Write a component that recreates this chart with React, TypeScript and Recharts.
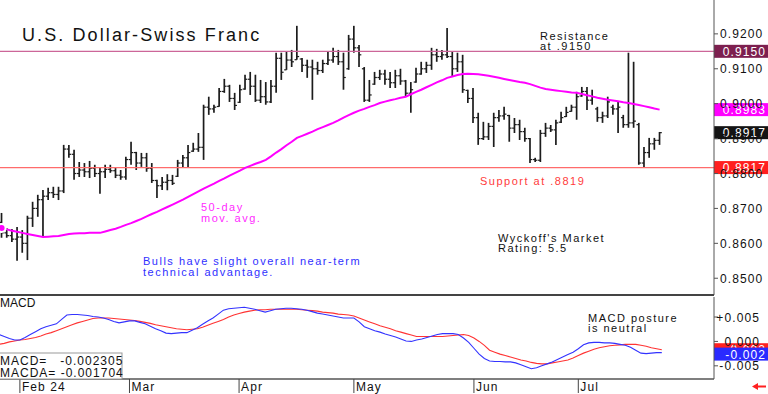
import { Bar, ComposedChart, Line, ReferenceLine, XAxis, YAxis } from "recharts";

// daily OHLC, USD/CHF, Jan 26 - Jul 23 2024
const highs = [
  0.8687, 0.8644, 0.8641, 0.8647, 0.8638, 0.8679, 0.8719, 0.8739, 0.8753, 0.8759,
  0.8762, 0.8762, 0.8882, 0.8882, 0.8868, 0.8833, 0.883, 0.8836, 0.8825, 0.8819,
  0.8825, 0.8825, 0.8816, 0.881, 0.8848, 0.8891, 0.8862, 0.8859, 0.8859, 0.883,
  0.8782, 0.879, 0.8798, 0.8796, 0.8839, 0.8853, 0.8882, 0.8888, 0.8916, 0.8997,
  0.902, 0.8997, 0.9045, 0.9071, 0.9054, 0.9031, 0.9054, 0.9083, 0.9091, 0.9083,
  0.9068, 0.9062, 0.9068, 0.9146, 0.9146, 0.9148, 0.9154, 0.9223, 0.9131, 0.9126,
  0.9126, 0.912, 0.9126, 0.9151, 0.916, 0.9154, 0.9146, 0.9197, 0.9223, 0.9168,
  0.9105, 0.9068, 0.9091, 0.9097, 0.9097, 0.9091, 0.9097, 0.91, 0.9068, 0.9062,
  0.9103, 0.912, 0.912, 0.916, 0.9157, 0.9154, 0.9217, 0.9148, 0.9146, 0.914,
  0.904, 0.9045, 0.8974, 0.8948, 0.8945, 0.8974, 0.8982, 0.8991, 0.8968, 0.8959,
  0.8954, 0.8931, 0.8902, 0.8845, 0.8925, 0.8945, 0.8939, 0.8954, 0.8977, 0.8991,
  0.8997, 0.9034, 0.9048, 0.9048, 0.904, 0.8991, 0.8977, 0.902, 0.8997, 0.9005,
  0.8968, 0.9146, 0.912, 0.8945, 0.8876, 0.8902, 0.8902, 0.8919,
];
const lows = [
  0.8616, 0.8616, 0.8604, 0.855, 0.8573, 0.8552, 0.8647, 0.8676, 0.8618, 0.8724,
  0.873, 0.8724, 0.8744, 0.8845, 0.8782, 0.879, 0.879, 0.8787, 0.879, 0.8742,
  0.8787, 0.8802, 0.8787, 0.8782, 0.8782, 0.8825, 0.881, 0.8819, 0.8805, 0.8773,
  0.873, 0.8753, 0.8752, 0.8767, 0.879, 0.8816, 0.8819, 0.8862, 0.8862, 0.8839,
  0.8968, 0.8974, 0.8991, 0.9031, 0.9005, 0.8982, 0.9002, 0.904, 0.9025, 0.9005,
  0.9002, 0.8997, 0.9002, 0.9031, 0.9068, 0.9097, 0.9105, 0.9126, 0.9091, 0.9074,
  0.9011, 0.9083, 0.9088, 0.9111, 0.9117, 0.9111, 0.904, 0.9097, 0.9146, 0.9105,
  0.9005, 0.9005, 0.9054, 0.9068, 0.9054, 0.9045, 0.9045, 0.9054, 0.902, 0.8974,
  0.906, 0.9083, 0.9088, 0.9097, 0.912, 0.9126, 0.9131, 0.9077, 0.9091, 0.9031,
  0.9002, 0.8945, 0.8882, 0.8896, 0.8896, 0.8876, 0.8948, 0.8954, 0.8891, 0.8916,
  0.8896, 0.8891, 0.883, 0.8833, 0.8833, 0.8905, 0.8919, 0.8882, 0.8945, 0.8962,
  0.8977, 0.8954, 0.902, 0.8982, 0.8997, 0.8948, 0.8945, 0.8959, 0.8968, 0.8916,
  0.8931, 0.8931, 0.8931, 0.8825, 0.8816, 0.8845, 0.8868, 0.8882,
];
const opens = [
  0.866, 0.863, 0.8622, 0.8612, 0.8618, 0.86, 0.8672, 0.87, 0.8725, 0.8735,
  0.8745, 0.874, 0.875, 0.887, 0.8855, 0.88, 0.881, 0.8805, 0.8815, 0.88,
  0.8805, 0.8812, 0.8808, 0.8795, 0.879, 0.884, 0.886, 0.883, 0.8845, 0.8815,
  0.878, 0.8765, 0.8775, 0.878, 0.8792, 0.883, 0.8845, 0.8864, 0.887, 0.8875,
  0.899, 0.8985, 0.8992, 0.9035, 0.905, 0.9015, 0.9004, 0.9042, 0.907, 0.905,
  0.901, 0.902, 0.9005, 0.905, 0.913, 0.9097, 0.9125, 0.9126, 0.9128, 0.911,
  0.9105, 0.91, 0.9095, 0.9115, 0.9125, 0.9135, 0.912, 0.91, 0.9185, 0.916,
  0.91, 0.901, 0.9056, 0.9075, 0.9085, 0.907, 0.906, 0.908, 0.9065, 0.903,
  0.9062, 0.9085, 0.91, 0.911, 0.914, 0.9135, 0.914, 0.9135, 0.91, 0.912,
  0.9038, 0.9015, 0.896, 0.89, 0.8905, 0.8935, 0.896, 0.8965, 0.8966, 0.893,
  0.894, 0.892, 0.89, 0.884, 0.8838, 0.8915, 0.893, 0.8925, 0.8947, 0.8963,
  0.8978, 0.899, 0.9022, 0.9035, 0.901, 0.8985, 0.896, 0.8965, 0.899, 0.8985,
  0.896, 0.894, 0.8945, 0.894, 0.883, 0.886, 0.8885, 0.8895,
];
const closes = [
  0.863, 0.8622, 0.8612, 0.8618, 0.86, 0.8672, 0.87, 0.8725, 0.8735, 0.8745,
  0.874, 0.875, 0.887, 0.8855, 0.88, 0.881, 0.8805, 0.8815, 0.88, 0.8805,
  0.8812, 0.8808, 0.8795, 0.879, 0.884, 0.886, 0.883, 0.8845, 0.8815, 0.878,
  0.8765, 0.8775, 0.878, 0.8772, 0.883, 0.8845, 0.886, 0.887, 0.8875, 0.899,
  0.8985, 0.899, 0.9035, 0.905, 0.9015, 0.8995, 0.904, 0.907, 0.905, 0.901,
  0.902, 0.9005, 0.905, 0.913, 0.909, 0.9125, 0.912, 0.9135, 0.911, 0.9105,
  0.91, 0.9095, 0.9115, 0.9125, 0.9135, 0.912, 0.9075, 0.9185, 0.916, 0.914,
  0.901, 0.9025, 0.9075, 0.9085, 0.907, 0.906, 0.908, 0.9065, 0.903, 0.904,
  0.9085, 0.91, 0.911, 0.914, 0.9135, 0.914, 0.9135, 0.91, 0.912, 0.904,
  0.9015, 0.896, 0.89, 0.8905, 0.8935, 0.896, 0.8965, 0.897, 0.893, 0.894,
  0.892, 0.89, 0.884, 0.8838, 0.8915, 0.893, 0.8925, 0.8945, 0.896, 0.8975,
  0.899, 0.902, 0.9035, 0.901, 0.902, 0.896, 0.8965, 0.9005, 0.8985, 0.899,
  0.894, 0.8945, 0.895, 0.883, 0.886, 0.8885, 0.8895, 0.8917,
];
const ma50 = [
  0.8644, 0.864, 0.8636, 0.8633, 0.863, 0.8627, 0.8624, 0.8621, 0.8618, 0.8619,
  0.862, 0.8621, 0.8624, 0.8627, 0.8628, 0.8629, 0.8629, 0.863, 0.863, 0.863,
  0.8634, 0.8638, 0.8642, 0.8647, 0.8653, 0.8658, 0.8664, 0.867, 0.8677, 0.8684,
  0.869, 0.8697, 0.8704, 0.8711, 0.8718, 0.8725, 0.8733, 0.8741, 0.8749, 0.8757,
  0.8764, 0.8771, 0.8779, 0.8786, 0.8794, 0.8801, 0.8808, 0.8816, 0.8822, 0.8828,
  0.8833, 0.8839, 0.8849, 0.886, 0.887, 0.8881, 0.8891, 0.8902, 0.8908, 0.8914,
  0.892, 0.8927, 0.8933, 0.8939, 0.8945, 0.8952, 0.896, 0.8967, 0.8974, 0.898,
  0.8985, 0.8991, 0.8996, 0.9002, 0.9006, 0.901, 0.9013, 0.9017, 0.902, 0.9027,
  0.9034, 0.904, 0.9047, 0.9054, 0.9061, 0.9067, 0.9074, 0.9078, 0.9082, 0.9085,
  0.9086, 0.9085, 0.9084, 0.9082, 0.908, 0.9077, 0.9074, 0.9071, 0.9068, 0.9065,
  0.9062, 0.906, 0.9056, 0.9051, 0.9046, 0.9042, 0.904, 0.9038, 0.9036, 0.9034,
  0.9032, 0.9031, 0.9028, 0.9024, 0.9021, 0.9017, 0.9014, 0.9011, 0.9009, 0.9007,
  0.9004, 0.9002, 0.8999, 0.8996, 0.8993, 0.899, 0.8986, 0.8983,
];
const macd = [
  0.0014, 0.001, 0.0006, 0.0003, 0.0003, 0.0008, 0.0014, 0.002, 0.0026, 0.003,
  0.0033, 0.0036, 0.0045, 0.0054, 0.0055, 0.0055, 0.0054, 0.0053, 0.0051, 0.005,
  0.0048, 0.0045, 0.0041, 0.0038, 0.004, 0.0042, 0.0042, 0.0039, 0.0036, 0.0031,
  0.0026, 0.0022, 0.0017, 0.0016, 0.0017, 0.0018, 0.0018, 0.0023, 0.0028, 0.0035,
  0.0042, 0.0048, 0.0056, 0.0064, 0.0067, 0.0068, 0.0069, 0.007, 0.0068, 0.0066,
  0.0063, 0.006, 0.0063, 0.0066, 0.0067, 0.0068, 0.0068, 0.0067, 0.0066, 0.0064,
  0.0061, 0.0058, 0.0056, 0.0054, 0.0052, 0.005, 0.0048, 0.0048, 0.0048, 0.004,
  0.003, 0.0026, 0.0022, 0.0019, 0.0015, 0.0012, 0.0009, 0.0005, 0.0001, 0.0,
  0.0003, 0.0005, 0.0008, 0.0011, 0.0014, 0.0016, 0.0016, 0.0016, 0.0014, 0.0007,
  -0.0002, -0.0014, -0.0026, -0.0035, -0.004, -0.0041, -0.0041, -0.0042, -0.0042, -0.0044,
  -0.0048, -0.0052, -0.0056, -0.0054, -0.005, -0.0046, -0.0042, -0.0037, -0.0032, -0.0027,
  -0.0022, -0.0015, -0.0007, -0.0003, -0.0002, -0.0002, -0.0003, -0.0003, -0.0004, -0.0006,
  -0.0008, -0.0012, -0.0018, -0.0024, -0.0025, -0.0024, -0.0023, -0.0023,
];
const macdAvg = [
  -0.0006, -0.0004, -0.0001, 0.0001, 0.0003, 0.0004, 0.0006, 0.0008, 0.0011, 0.0015,
  0.0018, 0.0022, 0.0026, 0.003, 0.0034, 0.0038, 0.0041, 0.0044, 0.0047, 0.0048,
  0.0048, 0.0048, 0.0047, 0.0046, 0.0045, 0.0044, 0.0043, 0.0041, 0.0039, 0.0037,
  0.0034, 0.0032, 0.003, 0.0028, 0.0026, 0.0025, 0.0024, 0.0025, 0.0026, 0.0029,
  0.0033, 0.0037, 0.0041, 0.0045, 0.005, 0.0054, 0.0057, 0.006, 0.0062, 0.0064,
  0.0065, 0.0065, 0.0066, 0.0066, 0.0066, 0.0066, 0.0066, 0.0066, 0.0065, 0.0064,
  0.0063, 0.0062, 0.006, 0.0059, 0.0058, 0.0056, 0.0055, 0.0054, 0.0052, 0.0048,
  0.0044, 0.004, 0.0036, 0.0032, 0.0029, 0.0026, 0.0022, 0.0019, 0.0016, 0.0013,
  0.001, 0.001, 0.001, 0.001, 0.001, 0.001, 0.0011, 0.0012, 0.0013, 0.0014,
  0.0012, 0.0007, 0.0, -0.0008, -0.0018, -0.0022, -0.0026, -0.0029, -0.0032, -0.0035,
  -0.0038, -0.004, -0.0043, -0.0045, -0.0046, -0.0046, -0.0044, -0.0042, -0.004, -0.0038,
  -0.0034, -0.0029, -0.0024, -0.002, -0.0016, -0.0013, -0.0011, -0.0009, -0.0008, -0.0007,
  -0.0006, -0.0006, -0.0006, -0.0008, -0.001, -0.0013, -0.0015, -0.0017,
];

const monthTicks = [4, 25, 46, 68, 91, 111];
const monthLabels = ["Feb 24", "Mar", "Apr", "May", "Jun", "Jul"];
const priceTicks = [0.85, 0.86, 0.87, 0.88, 0.89, 0.9, 0.91, 0.92];
const macdTicks = [-0.005, 0, 0.005];
const resistance = 0.915;
const support = 0.8817;
const macdReadout = "-0.002305";
const macdaReadout = "-0.001704";
const EMPTY_SLOTS = 10;

const FONT = "'Liberation Sans', Arial, sans-serif";

const rows = Array.from({ length: highs.length + EMPTY_SLOTS }, (_, i) =>
  i < highs.length
    ? { i, h: highs[i], l: lows[i], o: opens[i], c: closes[i], ma: ma50[i], macd: macd[i], avg: macdAvg[i] }
    : { i }
);
const last = highs.length - 1;

const OhlcBar = (props: any) => {
  const { x, y, width, height, payload } = props;
  if (payload == null || payload.h == null) return null;
  const top = Math.min(y, y + height);
  const bottom = Math.max(y, y + height);
  const cx = x + width / 2;
  const at = (v: number) => top + ((payload.h - v) / (payload.h - payload.l)) * (bottom - top);
  return (
    <g stroke="#1c1c1c">
      <line x1={cx} x2={cx} y1={top} y2={bottom} strokeWidth={1.7} />
      <line x1={cx - 2.3} x2={cx} y1={at(payload.o)} y2={at(payload.o)} strokeWidth={1.2} />
      <line x1={cx} x2={cx + 2.3} y1={at(payload.c)} y2={at(payload.c)} strokeWidth={1.2} />
    </g>
  );
};

// value box painted over the right-hand axis
const AxisBox = ({ viewBox, text, fill }: any) => {
  if (!viewBox) return null;
  const right = viewBox.x + viewBox.width;
  return (
    <g>
      <rect x={right} y={viewBox.y - 6.5} width={54} height={13} fill={fill} />
      <text x={right + 52} y={viewBox.y + 4.5} textAnchor="end" fill="#fff" fontSize={12} fontFamily={FONT} letterSpacing={1.1}>
        {text}
      </text>
    </g>
  );
};

const MonthTick = ({ x, y, payload }: any) => {
  const label = monthLabels[monthTicks.indexOf(payload.value)];
  return (
    <g>
      <line x1={x} x2={x} y1={y} y2={y + 14} stroke="#444" strokeWidth={1} />
      <text x={x + 2} y={y + 12} fontSize={12} fontFamily={FONT} letterSpacing={1.1} fill="#111">
        {label}
      </text>
    </g>
  );
};

const MacdTick = ({ x, y, payload }: any) => {
  const v = payload.value;
  const s = v > 0 ? `+${v.toFixed(3)}` : v.toFixed(3);
  return (
    <text x={x + 40} y={y + 4.5} textAnchor="end" fontSize={12} fontFamily={FONT} letterSpacing={1.1} fill="#111">
      {s}
    </text>
  );
};

const note = { fontFamily: FONT, fontSize: 11, letterSpacing: 1.5 };

export default function App() {
  return (
    <div style={{ position: "absolute", left: 0, top: 0, width: 768, height: 394, background: "#fff" }}>
      <ComposedChart width={768} height={295} data={rows} margin={{ top: 0, right: 0, bottom: 0, left: -1 }}>
        <XAxis dataKey="i" type="category" hide />
        <YAxis
          orientation="right"
          domain={[0.8452, 0.9297]}
          allowDataOverflow
          ticks={priceTicks}
          width={54}
          tickSize={4}
          axisLine={{ stroke: "#555" }}
          tickLine={{ stroke: "#555" }}
          tick={{ fontSize: 12, fill: "#111", fontFamily: FONT, letterSpacing: 1.1 }}
          tickFormatter={(v: number) => v.toFixed(4)}
        />
        <ReferenceLine y={resistance} stroke="#cc6699" strokeWidth={1.2} label={<AxisBox text={resistance.toFixed(4)} fill="#7d1f4f" />} />
        <ReferenceLine y={support} stroke="#ff6b6b" strokeWidth={1.2} label={<AxisBox text={support.toFixed(4)} fill="#ff1f1f" />} />
        <Bar dataKey={(d: any) => (d.h == null ? null : [d.l, d.h])} shape={(p: any) => <OhlcBar {...p} />} isAnimationActive={false} />
        <Line dataKey="ma" stroke="#ff00ff" strokeWidth={2} dot={false} isAnimationActive={false} />
        <ReferenceLine y={ma50[last]} stroke="none" label={<AxisBox text={ma50[last].toFixed(4)} fill="#ff00ff" />} />
        <ReferenceLine y={closes[last]} stroke="none" label={<AxisBox text={closes[last].toFixed(4)} fill="#141414" />} />
      </ComposedChart>
      <ComposedChart width={768} height={99} data={rows} margin={{ top: 2, right: 0, bottom: 0, left: -1 }}>
        <XAxis
          dataKey="i"
          type="category"
          ticks={monthTicks}
          interval={0}
          height={15}
          tickSize={0}
          tickMargin={0}
          tickLine={false}
          axisLine={{ stroke: "#555", strokeWidth: 1.5 }}
          tick={<MonthTick />}
        />
        <YAxis
          orientation="right"
          domain={[-0.0077, 0.0091]}
          allowDataOverflow
          ticks={macdTicks}
          width={54}
          tickSize={4}
          axisLine={{ stroke: "#555" }}
          tickLine={{ stroke: "#555" }}
          tick={<MacdTick />}
        />
        <Line dataKey="avg" stroke="#ff3333" strokeWidth={1.1} dot={false} isAnimationActive={false} />
        <Line dataKey="macd" stroke="#3333ff" strokeWidth={1.1} dot={false} isAnimationActive={false} />
        <ReferenceLine y={macdAvg[last]} stroke="none" label={<AxisBox text={macdAvg[last].toFixed(3)} fill="#ff2020" />} />
        <ReferenceLine y={macd[last] - 0.0003} stroke="none" label={<AxisBox text={macd[last].toFixed(3)} fill="#2a2aff" />} />
      </ComposedChart>
      <svg width={768} height={394} style={{ position: "absolute", left: 0, top: 0, pointerEvents: "none" }}>
        <text x={22} y={41} fontFamily={FONT} fontSize={18} letterSpacing={2.1} fill="#111">
          U.S. Dollar-Swiss Franc
        </text>
        <text x={540} y={40} {...note} fill="#111">Resistance</text>
        <text x={540} y={50} {...note} fill="#111">at .9150</text>
        <text x={480} y={185} {...note} fill="#ff3b3b">Support at .8819</text>
        <text x={201} y={211} {...note} fill="#ff2bff">50-day</text>
        <text x={201} y={222} {...note} fill="#ff2bff">mov. avg.</text>
        <text x={143} y={265} {...note} fill="#3030ff">Bulls have slight overall near-term</text>
        <text x={143} y={276} {...note} fill="#3030ff">technical advantage.</text>
        <text x={498} y={242} {...note} fill="#111">Wyckoff's Market</text>
        <text x={498} y={252} {...note} fill="#111">Rating: 5.5</text>
        <text x={588} y={322} {...note} fill="#111">MACD posture</text>
        <text x={588} y={332} {...note} fill="#111">is neutral</text>
        <rect x={0} y={294} width={714} height={2} fill="#444" />
        <text x={0} y={307} fontFamily={FONT} fontSize={12} fill="#111">MACD</text>
        <rect x={-1} y={353} width={123} height={26} fill="#fff" stroke="#999" />
        <text x={0} y={365} fontFamily={FONT} fontSize={12} letterSpacing={1} fill="#111" xmlSpace="preserve">
          {`MACD=   ${macdReadout}`}
        </text>
        <text x={0} y={377} fontFamily={FONT} fontSize={12} letterSpacing={1} fill="#111" xmlSpace="preserve">
          {`MACDA= ${macdaReadout}`}
        </text>
        <polygon points="752,386.5 758,383 758,385.5 766,385.5 766,387.5 758,387.5 758,390" fill="#ff2020" />
      </svg>
    </div>
  );
}
